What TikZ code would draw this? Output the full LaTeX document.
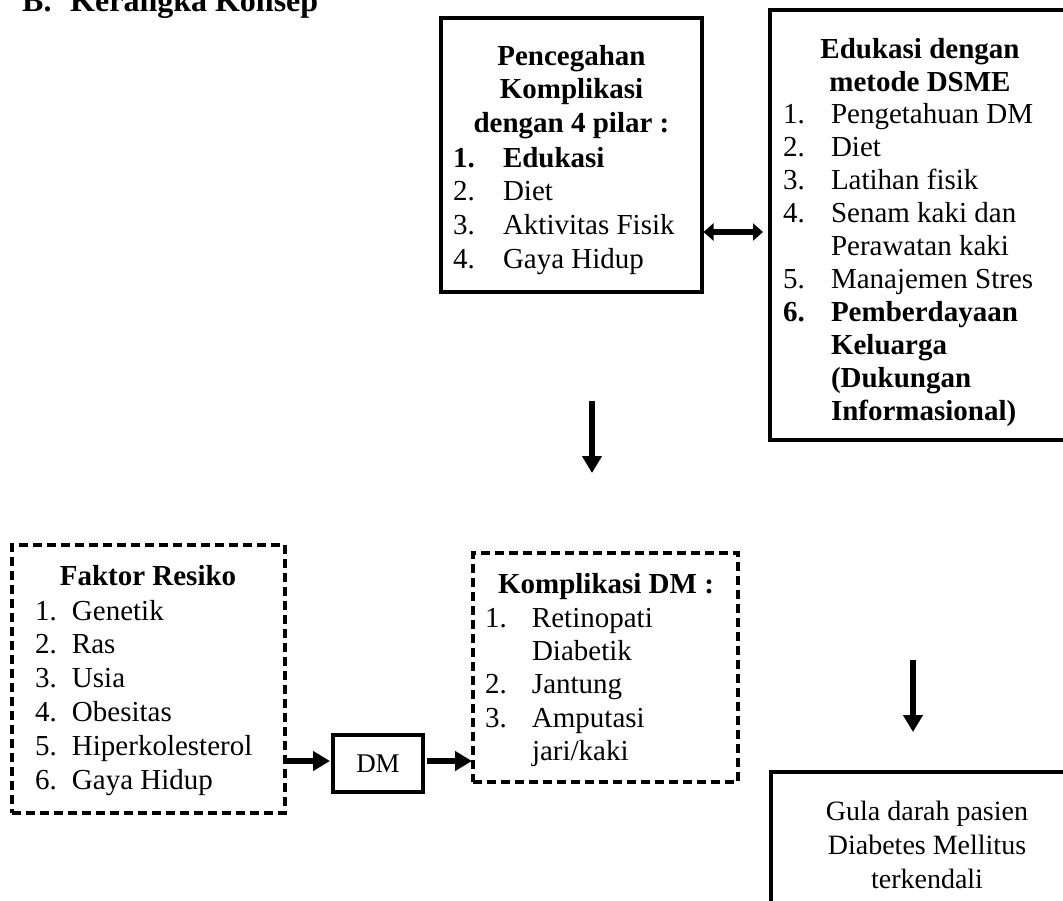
\documentclass[tikz,border=0pt]{standalone}
\usepackage{fontspec}
\setmainfont{Liberation Serif}
\usetikzlibrary{arrows.meta}
\newcommand{\nm}[2]{\makebox[#1][l]{#2}}
\begin{document}
\begin{tikzpicture}[x=1pt,y=-1pt,
  sbox/.style={draw, line width=3.6pt, inner sep=0pt, outer sep=0pt},
  dbox/.style={draw, line width=3.6pt, dash pattern=on 9pt off 5pt, inner sep=0pt, outer sep=0pt},
  txt/.style={inner sep=0pt, outer sep=0pt, font=\fontsize{29}{33.8}\selectfont},
  bigarrow/.style={line width=6.5pt, -{Triangle[length=17pt,width=19pt]}},
  dblarrow/.style={line width=6pt, {Triangle[length=10pt,width=17pt]}-{Triangle[length=10pt,width=17pt]}},
]
\useasboundingbox (0,0) rectangle (1063,900);
\clip (0,0) rectangle (1063,900);

% title
\node[anchor=base west, inner sep=0pt, font=\fontsize{32}{36}\selectfont\bfseries] (title) at (22,11) {\nm{48pt}{B.}Kerangka Konsep};

% box 1: Pencegahan
\node[sbox, minimum width=261pt, minimum height=274pt] (pc) at (571.5,155) {};
\node[txt, anchor=base] (pct) at (571.5,65) {\begin{tabular}[t]{@{}c@{}}\bfseries Pencegahan\\\bfseries Komplikasi\\\bfseries dengan 4 pilar :\end{tabular}};
\node[txt, anchor=base west] (pcl) at (453,167) {\begin{tabular}[t]{@{}l@{}}\textbf{\nm{50pt}{1.}Edukasi}\\\nm{50pt}{2.}Diet\\\nm{50pt}{3.}Aktivitas Fisik\\\nm{50pt}{4.}Gaya Hidup\end{tabular}};

% box 2: Edukasi DSME
\node[sbox, minimum width=300pt, minimum height=430pt] (ed) at (920,225) {};
\node[txt, font=\fontsize{29}{33}\selectfont, anchor=base] (edt) at (920,58) {\begin{tabular}[t]{@{}c@{}}\bfseries Edukasi dengan\\\bfseries metode DSME\end{tabular}};
\node[txt, font=\fontsize{29}{33}\selectfont, anchor=base west] (edl) at (783,123) {\begin{tabular}[t]{@{}l@{}}\nm{48pt}{1.}Pengetahuan DM\\\nm{48pt}{2.}Diet\\\nm{48pt}{3.}Latihan fisik\\\nm{48pt}{4.}Senam kaki dan\\\nm{48pt}{}Perawatan kaki\\\nm{48pt}{5.}Manajemen Stres\\\textbf{\nm{48pt}{6.}Pemberdayaan}\\\textbf{\nm{48pt}{}Keluarga}\\\textbf{\nm{48pt}{}(Dukungan}\\\textbf{\nm{48pt}{}Informasional)}\end{tabular}};

% double arrow
\coordinate (dy) at (0,232);
\draw[dblarrow, shorten <=1.5pt, shorten >=7pt] (pc.east |- dy) -- (ed.west |- dy);

% down arrow 1
\coordinate (a1s) at (592,401);
\coordinate (a1e) at (592,473);
\draw[bigarrow] (a1s) -- (a1e);

% Faktor Resiko
\node[dbox, minimum width=273pt, minimum height=268pt] (fr) at (148.5,679) {};
\node[txt, anchor=base] (frt) at (148,585) {\bfseries Faktor Resiko};
\node[txt, anchor=base west] (frl) at (35,620) {\begin{tabular}[t]{@{}l@{}}\nm{37pt}{1.}Genetik\\\nm{37pt}{2.}Ras\\\nm{37pt}{3.}Usia\\\nm{37pt}{4.}Obesitas\\\nm{37pt}{5.}Hiperkolesterol\\\nm{37pt}{6.}Gaya Hidup\end{tabular}};

% DM
\node[sbox, minimum width=90pt, minimum height=57pt, font=\fontsize{27}{30}\selectfont] (dm) at (378,763.5) {DM};

% Komplikasi
\node[dbox, minimum width=265pt, minimum height=229pt] (km) at (605.5,667.5) {};
\node[txt, anchor=base] (kmt) at (606,593) {\bfseries Komplikasi DM :};
\node[txt, font=\fontsize{29}{33.4}\selectfont, anchor=base west] (kml) at (485,627) {\begin{tabular}[t]{@{}l@{}}\nm{47pt}{1.}Retinopati\\\nm{47pt}{}Diabetik\\\nm{47pt}{2.}Jantung\\\nm{47pt}{3.}Amputasi\\\nm{47pt}{}jari/kaki\end{tabular}};

% horizontal arrows
\coordinate (hy) at (0,761);
\draw[bigarrow, shorten >=3pt] (fr.east |- hy) -- (dm.west |- hy);
\draw[bigarrow, shorten <=4pt, shorten >=1pt] (dm.east |- hy) -- (km.west |- hy);

% down arrow 2
\coordinate (a2s) at (913,660);
\coordinate (a2e) at (913,732);
\draw[bigarrow] (a2s) -- (a2e);

% Gula darah
\node[sbox, minimum width=312pt, minimum height=148pt] (gd) at (927,846) {};
\node[txt, font=\fontsize{28}{34}\selectfont, anchor=base] (gdt) at (927,820) {\begin{tabular}[t]{@{}c@{}}Gula darah pasien\\Diabetes Mellitus\\terkendali\end{tabular}};
\end{tikzpicture}
\end{document}
